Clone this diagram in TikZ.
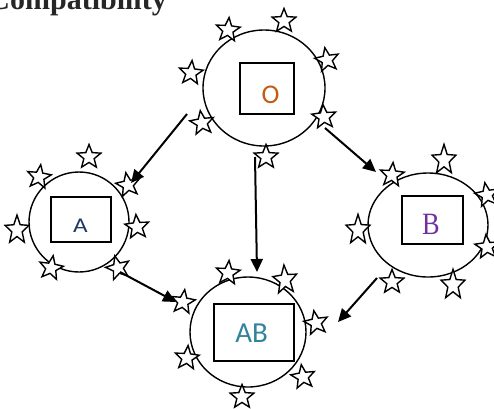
\documentclass[tikz,border=0pt]{standalone}
\usepackage{fontspec}
\newfontfamily\carl{Carlito}
\newfontfamily\lser{Liberation Serif}
\usetikzlibrary{shapes.geometric,arrows.meta}
\definecolor{ocol}{HTML}{C55A11}
\definecolor{acol}{HTML}{1F3864}
\definecolor{bcol}{HTML}{7030A0}
\definecolor{abcol}{HTML}{31849B}
\tikzset{
  st/.style={star, star points=5, star point ratio=2.3, minimum size=25pt, inner sep=0pt, draw, line width=1.4pt, fill=white},
  circ/.style={ellipse, draw, line width=1.4pt, inner sep=0pt},
  box/.style={rectangle, draw, line width=1.6pt, inner sep=0pt},
  arr/.style={line width=2pt, -{Triangle[length=13pt,width=12pt]}},
}
\begin{document}
\begin{tikzpicture}[x=1pt,y=-1pt]
\useasboundingbox (0,0) rectangle (494,408);
\clip (0,0) rectangle (494,408);
% title
\node[anchor=base east, inner sep=0pt, font=\lser\bfseries\fontsize{30}{36}\selectfont, text=black!85] (title) at (167,9) {Compatibility};
% circles
\node[circ, minimum width=122pt, minimum height=116pt] (O) at (264,88) {};
\node[circ, minimum width=100pt, minimum height=100pt] (A) at (79,222) {};
\node[circ, minimum width=120pt, minimum height=104pt] (B) at (428,225) {};
\node[circ, minimum width=116pt, minimum height=110pt] (AB) at (248,332) {};
% boxes
\node[box, minimum width=54pt, minimum height=51pt] (Obox) at (267,88.5) {};
\node[box, minimum width=60pt, minimum height=45pt] (Abox) at (81,219.5) {};
\node[box, minimum width=61pt, minimum height=48pt] (Bbox) at (432.5,220) {};
\node[box, minimum width=80pt, minimum height=57pt] (ABbox) at (254,332.5) {};
% labels
\node[inner sep=0pt, text=ocol, font=\carl\fontsize{27}{30}\selectfont] (Ot) at (270.5,94.5) {O};
\node[inner sep=0pt, text=acol, font=\carl\fontsize{21}{25}\selectfont, xscale=1.2] (At) at (80.5,226) {A};
\node[inner sep=0pt, text=bcol, font=\lser\fontsize{31}{34}\selectfont, xscale=0.85] (Bt) at (431,224.5) {B};
\node[inner sep=0pt, text=abcol, font=\carl\fontsize{29}{33}\selectfont] (ABt) at (251.7,333) {AB};
% stars around O
\node[st, rotate=-5] (o1) at (228,30) {};
\node[st] (o2) at (284,21) {};
\node[st, rotate=10] (o3) at (327,60) {};
\node[st, rotate=-5] (o4) at (191,73) {};
\node[st, rotate=8] (o5) at (202,123) {};
\node[st, rotate=5] (o6) at (324,117) {};
\node[st] (o7) at (266,157) {};
% stars around A
\node[st] (a1) at (89,157) {};
\node[st, rotate=-8] (a2) at (39,177) {};
\node[st, rotate=10] (a3) at (128,185) {};
\node[st, yscale=1.2] (a4) at (17,230) {};
\node[st, rotate=5] (a5) at (137,227) {};
\node[st, rotate=-10] (a6) at (51,268) {};
\node[st, rotate=15] (a7) at (118,268) {};
% stars around B
\node[st, yscale=1.25] (b1) at (444,160) {};
\node[st, rotate=-5] (b2) at (392,175) {};
\node[st, rotate=10] (b3) at (487,195) {};
\node[st, yscale=1.25] (b4) at (358,230) {};
\node[st, rotate=5] (b5) at (487,247) {};
\node[st] (b6) at (392,282) {};
\node[st, yscale=1.25] (b7) at (453,285) {};
% stars around AB
\node[st, rotate=-5] (ab1) at (228,273) {};
\node[st, yscale=1.2, rotate=5] (ab2) at (285,280) {};
\node[st, rotate=-8] (ab3) at (183,302) {};
\node[st, rotate=10] (ab4) at (316,323) {};
\node[st, rotate=-5] (ab5) at (187,358) {};
\node[st, rotate=8] (ab6) at (303,377) {};
\node[st] (ab7) at (242,397) {};
% arrows
\draw[arr] ([shift={(-77,26)}]O.center) -- ([shift={(52,-39)}]A.center);
\draw[arr] ([shift={(-9,69)}]O.center) -- ([shift={(9,-60)}]AB.center);
\draw[arr] ([shift={(61,40)}]O.center) -- ([shift={(-52,-53)}]B.center);
\draw[arr] ([shift={(41,50)}]A.center) -- ([shift={(-72,-30)}]AB.center);
\draw[arr] ([shift={(-51,53)}]B.center) -- ([shift={(90,-10)}]AB.center);
\end{tikzpicture}
\end{document}
